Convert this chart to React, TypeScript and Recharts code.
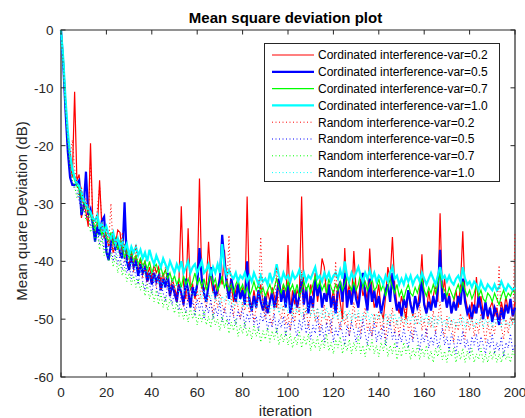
import React from "react";
import {
  LineChart,
  Line,
  XAxis,
  YAxis,
  Legend,
  ReferenceArea,
} from "recharts";

// x positions: iteration index
const iterations: number[] = Array.from({ length: 201 }, (_, i) => i);

const xTicks = [0, 20, 40, 60, 80, 100, 120, 140, 160, 180, 200];
const yTicks = [-60, -50, -40, -30, -20, -10, 0];

// Cordinated interference, var = 0.2
const crd02 = [
  0, -5.5, -12.5, -18.5, -23, -25.5, -10.7, -26, -25, -32.5,
  -30, -31.5, -34, -19.6, -33, -35, -34.5, -26, -34, -36,
  -35.5, -37.5, -36, -38.5, -37, -34.6, -35, -38.5, -37, -39.5,
  -41, -38, -40.5, -39, -42, -39.5, -41, -40, -42.5, -41,
  -43, -40.5, -42, -41, -43.5, -42, -44, -42.5, -45, -43,
  -44.5, -46, -43, -30.5, -44, -46.5, -34.3, -45, -44, -46.5,
  -44.5, -25.7, -43, -45, -44, -36.6, -43, -45.5, -44, -46,
  -42, -44, -38, -43, -45, -44, -47, -45, -43.5, -46,
  -44.5, -47, -28.8, -46, -48, -45, -47.5, -46, -44, -47,
  -48.5, -45, -47, -44.5, -46, -48, -43, -46, -44, -47.5,
  -37.2, -49, -45, -47.5, -45, -46, -28.8, -47, -45, -48.5,
  -44, -46, -42, -47, -44, -39.5, -41, -46, -44, -47,
  -45, -48, -44, -47, -50, -37.7, -46, -44, -47, -38.2,
  -45, -47, -43, -46, -44.5, -47, -37.8, -45, -48, -46.5,
  -44, -48.5, -50, -46, -41, -43, -35.8, -44, -47.5, -49,
  -46, -48, -50, -45, -47, -49.5, -46, -48, -45, -38.8,
  -47, -49, -45, -48, -46, -44, -47, -31.7, -46, -43,
  -48, -45.5, -49, -47, -45, -48, -44, -34.8, -46, -48,
  -50, -47, -49, -42.7, -48, -46, -49, -47.5, -50, -48,
  -47, -49.5, -48, -50.5, -47, -49, -46, -48.5, -47, -49.5,
  -47,
];

// Cordinated interference, var = 0.5
const crd05 = [
  0, -6, -14, -21, -25.5, -26.8, -26.8, -26.5, -26, -32,
  -30.5, -24.5, -32, -31, -33.5, -36.6, -34, -35.5, -33, -32.3,
  -38.4, -39.8, -37, -35.5, -38, -36, -38.5, -39.5, -29.8, -40,
  -41.5, -39, -41, -40, -42.5, -40.5, -42, -41, -43.5, -42,
  -44, -42, -43.5, -42.5, -45, -43, -44.5, -42, -46, -44,
  -45.5, -47, -44, -45.5, -47.5, -43, -45, -48, -44.5, -46,
  -44, -37.7, -43, -45.5, -47, -44, -41, -44, -46, -45,
  -43, -35.4, -40, -44, -46.5, -43, -45, -47, -44, -46.5,
  -45, -47.5, -40, -47, -48.5, -46, -48, -45, -47, -48.5,
  -46, -49, -47, -45.5, -48, -46, -43, -47, -45, -48,
  -44, -49, -47, -45, -48, -46, -43, -47.5, -44.5, -49,
  -46, -48, -43, -46, -44, -48, -45.5, -47, -44, -48,
  -46, -49, -45, -43.5, -47, -42, -48, -45, -47.5, -44,
  -46.5, -48, -44.5, -42, -46, -48.5, -43, -47, -45, -48,
  -46, -49, -47, -45, -44, -47, -42, -46, -48.5, -47,
  -49.5, -46.5, -48, -45, -47.5, -49, -46, -48, -47, -43,
  -47.5, -49, -47, -48.5, -46, -48, -45, -38, -47, -45.5,
  -48, -46, -49, -47, -48.5, -46, -47.5, -43, -47, -49,
  -48, -50, -47.5, -49, -46, -48, -50, -47, -49.5, -48,
  -50.5, -48, -49, -51, -48, -50, -47.5, -49, -46.5, -49.5,
  -48,
];

// Cordinated interference, var = 0.7
const crd07 = [
  0, -5, -12, -18, -22, -24.5, -26, -27, -27.5, -29,
  -30, -30.5, -31.5, -32, -33, -34.5, -33, -34, -35.5, -34,
  -36, -36.5, -35, -37, -36, -38, -36.5, -37.5, -39.5, -38,
  -39.5, -38.5, -40, -39, -40.5, -39.5, -41, -40, -41.5, -40,
  -42, -41, -40.5, -42, -41, -42.5, -41.5, -43, -42, -43.5,
  -42.5, -44, -43, -44.5, -42.5, -44, -43, -44.5, -43.5, -42,
  -44, -43, -44.5, -43, -45, -43.5, -42, -44, -43, -45,
  -44, -42.5, -44.5, -43.5, -45, -44, -45.5, -44, -43, -45,
  -44, -45.5, -44.5, -46, -45, -43.5, -45, -44, -45.5, -44.5,
  -46, -45, -44, -45.5, -44.5, -43, -44.5, -45.5, -44, -45,
  -43.5, -45, -44, -45.5, -44, -46, -45, -43.5, -45, -44,
  -45.5, -44, -42.5, -44.5, -43.5, -45, -44, -45.5, -43, -44.5,
  -45.5, -44, -45, -43.5, -45, -44, -42.5, -44, -45, -43.5,
  -45, -44, -42, -44.5, -43.5, -45, -44, -43, -45, -44.5,
  -43, -45, -44, -46, -44.5, -43, -44.5, -45.5, -44, -46,
  -45, -46.5, -45, -44, -45.5, -46, -44.5, -45.5, -44, -43,
  -45, -46, -44.5, -45.5, -44, -45.5, -44, -42, -44.5, -45,
  -46, -44.5, -45.5, -46.5, -45, -44, -45.5, -43.5, -45, -46,
  -45, -46.5, -45.5, -44, -46, -45, -46.5, -47, -45.5, -46,
  -47, -45.5, -46.5, -47.5, -46, -45, -46.5, -45.5, -46, -45,
  -45.5,
];

// Cordinated interference, var = 1.0
const crd10 = [
  0, -5, -12, -17.5, -21.5, -24, -25.5, -26.5, -27, -28,
  -29.5, -30, -31, -31.5, -32.5, -33, -32, -34, -33.5, -35,
  -34, -35.5, -36, -35, -37, -36, -37.5, -36.5, -38, -37,
  -39, -37.5, -38.5, -37.5, -39, -38, -39.5, -38.5, -40, -38,
  -39.5, -40.5, -39, -40, -41, -39.5, -40.5, -41.5, -40, -41,
  -42, -40.5, -41.5, -40, -42, -41, -40, -42, -41, -40.5,
  -42, -41, -40, -42, -41.5, -40.5, -42.5, -41, -42, -40.5,
  -42, -37, -41, -42.5, -41.5, -42.5, -43, -42, -43.5, -42.5,
  -43, -42, -43.5, -42.5, -43.5, -42, -43, -44, -42.5, -43.5,
  -43, -44, -42, -43.5, -42.5, -40.5, -42.5, -43.5, -42, -43,
  -42.5, -43.5, -42, -43, -42.5, -41.5, -43, -42, -43.5, -42.5,
  -43, -42, -41, -43, -42.5, -43.5, -42, -43, -42, -43.5,
  -42.5, -42, -43, -41.5, -43, -40, -42.5, -43.5, -42, -43,
  -42, -41, -42.5, -43.5, -42, -43, -41.5, -43, -42, -43.5,
  -42.5, -43, -44, -42.5, -43.5, -42, -41, -43, -42.5, -44,
  -43, -44, -42.5, -43.5, -42.5, -44, -43, -42.5, -43.5, -42,
  -43, -44, -43, -42, -43, -44, -42.5, -41, -43, -42.5,
  -43.5, -42.5, -43.5, -44, -43, -42.5, -43.5, -41, -43, -44,
  -43.5, -44.5, -43.5, -44, -45, -43.5, -44.5, -45, -44, -44.5,
  -45, -44, -45, -44.5, -43.5, -44.5, -45, -44, -44.5, -45,
  -44.5,
];

// Random interference, var = 0.2
const rnd02 = [
  0, -6, -13, -18.5, -22, -19, -24, -26.5, -29, -27,
  -31, -29, -33, -23, -32, -34, -31, -27, -33, -36,
  -34.5, -37, -30, -38.5, -36, -37.5, -39, -35, -40, -38,
  -41, -38.5, -42, -37, -41.5, -40, -43, -41, -44, -42,
  -43.5, -41, -44.5, -42.5, -45, -43, -41, -44.5, -46, -43.5,
  -45.5, -47, -44, -46, -48, -45, -47, -44.5, -46.5, -48.5,
  -45, -47, -44, -46.5, -48, -45.5, -47, -49, -46, -48,
  -45.5, -47.5, -49, -46, -35.5, -47, -49.5, -46.5, -48, -50,
  -47, -48.5, -46, -49, -47.5, -50.5, -48, -46, -35.8, -48,
  -50, -47, -49.5, -51, -48, -41, -48.5, -50, -47.5, -51,
  -49, -52, -48, -50.5, -47, -49.5, -41.5, -50, -48, -51.5,
  -49, -47, -50.5, -48, -52, -49.5, -47.5, -51, -49, -52.5,
  -48, -40, -50, -52, -48.5, -51, -49, -53, -50, -47,
  -51.5, -49, -52.5, -50, -48, -52, -50.5, -53, -49, -51.5,
  -48.5, -52, -50, -53.5, -49.5, -51, -48, -52.5, -50, -53,
  -49.5, -51.5, -48, -52, -50.5, -53.5, -49, -51, -47.5, -52,
  -50, -53, -49.5, -51.5, -48.5, -52.5, -50, -47, -51.5, -53,
  -49.5, -52, -50, -54, -50.5, -52, -49, -51.5, -53.5, -50,
  -52, -49.5, -53, -50.5, -52.5, -49, -51.5, -54, -50.5, -53,
  -51, -52.5, -49, -40.7, -51.5, -53.5, -50, -52.5, -49.5, -51,
  -35,
];

// Random interference, var = 0.5
const rnd05 = [
  0, -6.5, -14, -20.5, -24.5, -26.5, -27.5, -28, -29.5, -31,
  -30, -32.5, -31.5, -34, -33, -36, -34.5, -37, -35.5, -38,
  -36.5, -39, -37.5, -40, -38, -40.5, -39, -41.5, -39.5, -42,
  -40.5, -43, -41, -42.5, -44, -41.5, -43.5, -45, -42.5, -44,
  -45.5, -43, -44.5, -46, -43.5, -45.5, -47, -44, -46, -47.5,
  -45, -47, -48.5, -45.5, -47.5, -49, -46, -48, -47, -49.5,
  -46.5, -48.5, -47, -50, -47.5, -49, -46.5, -50, -48, -49.5,
  -47, -50.5, -48, -49.5, -51, -47.5, -49.5, -51, -48.5, -50,
  -48, -51.5, -49, -50.5, -48, -51, -49.5, -52, -49, -50.5,
  -48.5, -52, -50, -51.5, -49, -52.5, -50, -51.5, -49.5, -53,
  -50.5, -52, -49.5, -51.5, -53, -50, -52, -49, -52.5, -50.5,
  -53.5, -51, -52.5, -49.5, -53, -51, -54, -50.5, -52.5, -50,
  -54, -51.5, -53, -50.5, -52.5, -54.5, -51, -53, -50.5, -52,
  -54, -51.5, -53.5, -50, -52.5, -54.5, -51.5, -53, -50.5, -54,
  -52, -53.5, -51, -54.5, -52.5, -50.5, -53.5, -52, -55, -52.5,
  -54, -51.5, -53.5, -55, -52, -54, -51.5, -53, -55.5, -52.5,
  -54, -51.5, -55, -53, -54.5, -52, -55, -53.5, -51.5, -54.5,
  -53, -55.5, -52.5, -54, -56, -53, -54.5, -52, -55, -53.5,
  -56, -53, -54.5, -52.5, -55.5, -53, -54.5, -56, -53.5, -55,
  -52.5, -56, -54, -55.5, -53, -56.5, -54, -55, -52.5, -55.5,
  -54.5,
];

// Random interference, var = 0.7
const rnd07 = [
  0, -6, -13.5, -20, -24, -26, -27, -29, -28, -31.5,
  -30.5, -33, -32, -35, -33.5, -36.5, -35, -38, -36, -39,
  -37.5, -40, -38.5, -41, -39, -42, -40, -42.5, -41, -43.5,
  -42, -44, -42.5, -44.5, -43, -45, -43.5, -46, -44, -46.5,
  -45, -47, -45, -47.5, -45.5, -48, -46, -48.5, -46.5, -47.5,
  -49, -47, -49.5, -48, -50, -48.5, -50.5, -48, -50, -48.5,
  -51, -49, -50.5, -48.5, -51, -49.5, -51.5, -49, -51, -50,
  -52, -49.5, -51.5, -50, -52.5, -50.5, -52, -50, -53, -51,
  -52.5, -50.5, -53, -51.5, -53.5, -51, -53, -51.5, -54, -52,
  -53.5, -51.5, -54, -52, -53.5, -51.5, -54.5, -52.5, -54, -52,
  -54.5, -52.5, -55, -53, -54.5, -52, -55, -53, -54.5, -52.5,
  -55.5, -53.5, -55, -53, -55.5, -53.5, -55, -52.5, -55.5, -54,
  -56, -53.5, -55, -53, -56, -54, -55.5, -53.5, -56, -54,
  -55.5, -53, -56, -54.5, -56.5, -54, -55.5, -53.5, -56, -54.5,
  -56.5, -54, -55.5, -53.5, -56.5, -54.5, -56, -54, -57, -55,
  -56.5, -54, -56, -54.5, -57, -55, -56.5, -54.5, -57, -55,
  -56.5, -54.5, -57, -55.5, -57.5, -55, -56.5, -54.5, -57, -55.5,
  -57.5, -55, -56.5, -55, -57.5, -55.5, -57, -55, -57.5, -55.5,
  -57, -55, -57.5, -56, -57, -55, -57.5, -56, -57.5, -55.5,
  -57, -55.5, -57.5, -56, -57.5, -55.5, -57, -56, -57.5, -55.5,
  -56.5,
];

// Random interference, var = 1.0
const rnd10 = [
  0, -5.5, -12.5, -18.5, -22.5, -25, -26, -27.5, -28.5, -30,
  -29, -31, -30.5, -33, -32, -34.5, -33, -35.5, -34, -36.5,
  -35.5, -37.5, -36, -38, -37, -39, -37.5, -39.5, -38.5, -40.5,
  -39, -41, -39.5, -41.5, -40, -42, -40.5, -42.5, -41, -43,
  -41.5, -43.5, -42, -44, -42, -44.5, -42.5, -44, -45, -43,
  -45, -43.5, -45.5, -44, -46, -44, -45.5, -44.5, -46.5, -44.5,
  -46, -45, -46.5, -45, -47, -45.5, -46.5, -45, -47, -45.5,
  -47.5, -46, -47, -45.5, -47.5, -46, -48, -46, -47.5, -46.5,
  -48, -46.5, -48, -46.5, -48.5, -47, -48, -46.5, -42, -47.5,
  -48.5, -47, -49, -47, -48.5, -47, -49, -47.5, -48.5, -47,
  -49, -47.5, -49.5, -47.5, -49, -48, -49.5, -48, -49, -47.5,
  -49.5, -48, -50, -48, -49.5, -48.5, -50, -48, -49.5, -48.5,
  -50, -48.5, -50, -48, -50.5, -48.5, -50, -48.5, -50.5, -49,
  -50, -48.5, -50.5, -49, -50, -48.5, -50.5, -49, -50.5, -49,
  -50, -48.5, -50.5, -49, -51, -49, -50.5, -49, -51, -49.5,
  -50.5, -49, -51, -49.5, -50.5, -49, -51, -49.5, -51, -49.5,
  -50.5, -49, -51, -49.5, -51.5, -49.5, -51, -49.5, -51, -50,
  -51.5, -49.5, -51, -50, -51.5, -50, -51, -49.5, -51.5, -50,
  -51, -50, -51.5, -50, -51, -49.5, -51.5, -50, -51, -50,
  -51.5, -50, -51, -50, -51.5, -50, -51, -50.5, -51.5, -50,
  -51,
];

const chartData = iterations.map((it, i) => ({
  it,
  crd02: crd02[i],
  crd05: crd05[i],
  crd07: crd07[i],
  crd10: crd10[i],
  rnd02: rnd02[i],
  rnd05: rnd05[i],
  rnd07: rnd07[i],
  rnd10: rnd10[i],
}));

const series = [
  { key: "crd02", name: "Cordinated interference-var=0.2", color: "#ff0000", width: 1.2, dash: undefined },
  { key: "crd05", name: "Cordinated interference-var=0.5", color: "#0000ff", width: 2.2, dash: undefined },
  { key: "crd07", name: "Cordinated interference-var=0.7", color: "#00ff00", width: 1.2, dash: undefined },
  { key: "crd10", name: "Cordinated interference-var=1.0", color: "#00ffff", width: 2.2, dash: undefined },
  { key: "rnd02", name: "Random interference-var=0.2", color: "#ff0000", width: 1, dash: "1 2.5" },
  { key: "rnd05", name: "Random interference-var=0.5", color: "#0000ff", width: 1, dash: "1 2.5" },
  { key: "rnd07", name: "Random interference-var=0.7", color: "#00ff00", width: 1, dash: "1 2.5" },
  { key: "rnd10", name: "Random interference-var=1.0", color: "#00ffff", width: 1, dash: "1 2.5" },
];

const FONT = "'Liberation Sans', Arial, sans-serif";
const INK = "#262626";
const TOP = 30;
const BOTTOM = 377;
const LEFT = 61;
const RIGHT = 515;
const TICK_LEN = 4.5;

const XTick = (props: any) => {
  const { x, payload } = props;
  return (
    <g>
      <line x1={x} x2={x} y1={BOTTOM} y2={BOTTOM - TICK_LEN} stroke={INK} />
      <line x1={x} x2={x} y1={TOP} y2={TOP + TICK_LEN} stroke={INK} />
      <text x={x} y={397} textAnchor="middle" fontFamily={FONT} fontSize={13.5} fill={INK}>
        {payload.value}
      </text>
    </g>
  );
};

const YTick = (props: any) => {
  const { y, payload } = props;
  return (
    <g>
      <line x1={LEFT} x2={LEFT + TICK_LEN} y1={y} y2={y} stroke={INK} />
      <line x1={RIGHT} x2={RIGHT - TICK_LEN} y1={y} y2={y} stroke={INK} />
      <text x={53.5} y={y + 5} textAnchor="end" fontFamily={FONT} fontSize={13.5} fill={INK}>
        {payload.value}
      </text>
    </g>
  );
};

const TitleLabel = () => (
  <text x={285.5} y={23} textAnchor="middle" fontFamily={FONT} fontSize={15} fontWeight="bold" fill="#000">
    Mean square deviation plot
  </text>
);

const XLabel = () => (
  <text x={285.5} y={416} textAnchor="middle" fontFamily={FONT} fontSize={15} fill={INK}>
    iteration
  </text>
);

const YLabel = () => (
  <text x={27} y={211} transform="rotate(-90 27 211)" textAnchor="middle" fontFamily={FONT} fontSize={15} fill={INK}>
    Mean quare Deviation (dB)
  </text>
);

const LegendBox = () => (
  <div style={{ width: 236, height: 139, border: `1px solid ${INK}`, background: "#fff", boxSizing: "border-box" }}>
    <svg width={234} height={137} style={{ display: "block" }}>
      {series.map((s, i) => {
        const cy = 11 + i * 16.8;
        return (
          <g key={s.key}>
            <line x1={7} x2={49} y1={cy} y2={cy} stroke={s.color} strokeWidth={s.width} strokeDasharray={s.dash} />
            <text x={53} y={cy + 4.3} fontFamily={FONT} fontSize={12} fill="#000">
              {s.name}
            </text>
          </g>
        );
      })}
    </svg>
  </div>
);

export default function App() {
  return (
    <div style={{ position: "absolute", left: 0, top: 0, width: 525, height: 418, background: "#fff" }}>
      <LineChart width={525} height={418} data={chartData} margin={{ top: 0, right: 10, bottom: 0, left: 0 }}>
        <XAxis
          xAxisId="top"
          orientation="top"
          dataKey="it"
          type="number"
          domain={[0, 200]}
          height={30}
          tick={false}
          tickLine={false}
          axisLine={false}
          label={<TitleLabel />}
        />
        <XAxis
          dataKey="it"
          type="number"
          domain={[0, 200]}
          ticks={xTicks}
          interval={0}
          height={41}
          tickLine={false}
          axisLine={false}
          tick={<XTick />}
          label={<XLabel />}
        />
        <YAxis
          type="number"
          domain={[-60, 0]}
          ticks={yTicks}
          interval={0}
          width={61}
          tickLine={false}
          axisLine={false}
          tick={<YTick />}
          label={<YLabel />}
        />
        {series.map((s) => (
          <Line
            key={s.key}
            xAxisId={0}
            dataKey={s.key}
            name={s.name}
            type="linear"
            stroke={s.color}
            strokeWidth={s.width}
            strokeDasharray={s.dash}
            dot={false}
            activeDot={false}
            isAnimationActive={false}
          />
        ))}
        <ReferenceArea x1={0} x2={200} y1={-60} y2={0} fill="none" stroke={INK} strokeWidth={1.2} />
        <Legend
          layout="horizontal"
          verticalAlign="middle"
          align="center"
          content={<LegendBox />}
          wrapperStyle={{ position: "absolute", left: 264, top: 43, width: 236, height: 139 }}
        />
      </LineChart>
    </div>
  );
}
